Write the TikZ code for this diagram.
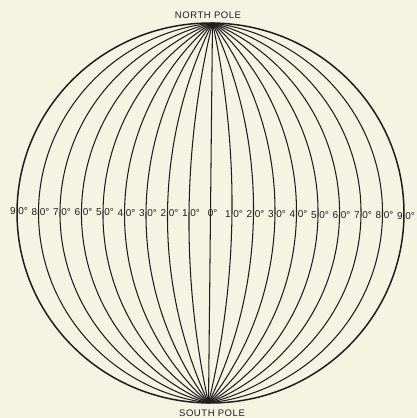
\documentclass[tikz,border=0pt]{standalone}
\usepackage{fontspec}
\setmainfont{Liberation Sans}
\definecolor{paper}{RGB}{245,243,226}
\definecolor{ink}{RGB}{30,30,30}
\begin{document}
\begin{tikzpicture}[x=1pt,y=1pt,
  meridian/.style={draw=ink,line width=1.05pt},
  rim/.style={draw=ink,line width=1.5pt},
  deg/.style={font=\fontsize{10}{10}\selectfont,text=ink,inner sep=0pt},
  pole/.style={font=\fontsize{9.5}{9.5}\selectfont\addfontfeature{LetterSpace=6},text=ink,inner sep=0pt}]
\fill[paper] (0,0) rectangle (417,418);
\useasboundingbox (0,0) rectangle (417,418);
\begin{scope}[shift={(210.5pt,205pt)},rotate=-0.6,x=193.5pt,y=190pt]
  \draw[meridian] (0,1) -- (0,-1);
  \foreach \k in {1,...,8} {
    \pgfmathsetmacro\xk{\k/9}
    \pgfmathsetmacro\rr{(\xk*\xk+1)/(2*\xk)}
    \pgfmathsetmacro\cc{(\xk*\xk-1)/(2*\xk)}
    \pgfmathsetmacro\th{atan(-1/\cc)}
    \draw[meridian] (0,1) arc[start angle=\th, end angle=-\th, radius=\rr];
    \draw[meridian] (0,1) arc[start angle=180-\th, end angle=180+\th, radius=\rr];
  }
  \draw[rim] (0,0) circle[radius=1];
  % labels
  \node[deg,anchor=base west,xshift=-2.8pt,yshift=-4pt] (c0) at (0,0) {0°};
  \foreach \k in {1,...,9} {
    \node[deg,anchor=base east,xshift=-1.2pt,yshift=-4pt] (rd\k) at (\k/9,0) {\k};
    \node[deg,anchor=base west,xshift=1.2pt,yshift=-4pt] (rz\k) at (\k/9,0) {0°};
    \node[deg,anchor=base east,xshift=-1.2pt,yshift=-4pt] (ld\k) at (-\k/9,0) {\k};
    \node[deg,anchor=base west,xshift=1.2pt,yshift=-4pt] (lz\k) at (-\k/9,0) {0°};
  }
\end{scope}
\node[pole] (north) at (208,403) {NORTH POLE};
\node[pole] (south) at (212,5) {SOUTH POLE};
\end{tikzpicture}
\end{document}
